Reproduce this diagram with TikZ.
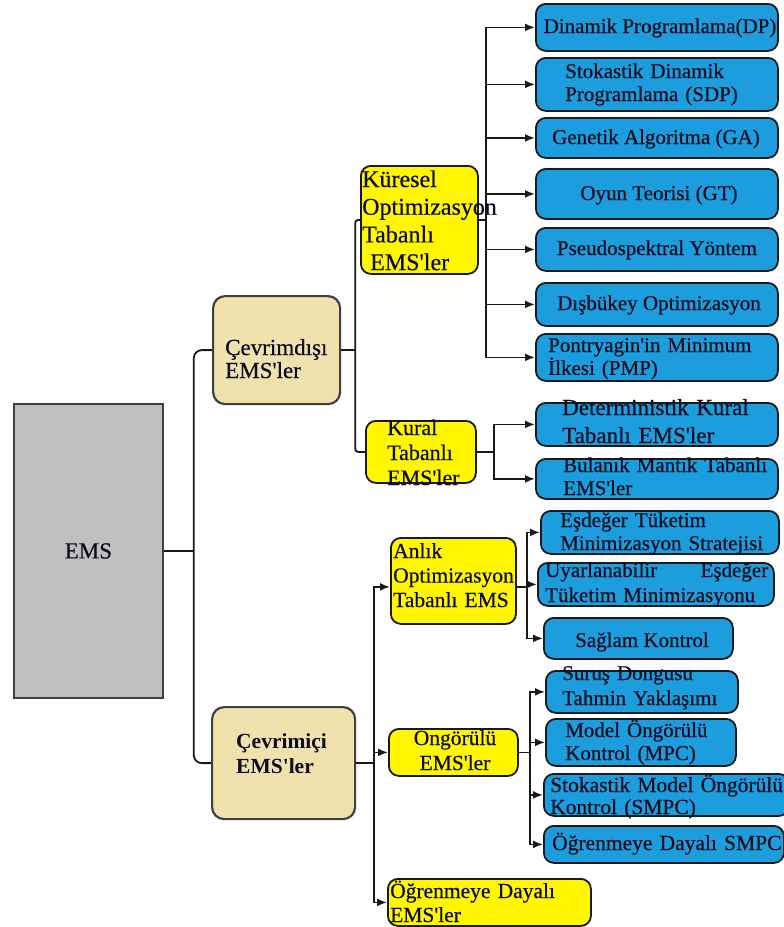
\documentclass[tikz,border=0pt]{standalone}
\usepackage{fontspec}
\setmainfont{Liberation Serif}[Ligatures=TeXOff, FakeBold=0.5, BoldFeatures={FakeBold=0}]
\usetikzlibrary{arrows.meta}
\definecolor{bluebox}{RGB}{28,158,222}
\definecolor{yellowbox}{RGB}{255,246,0}
\definecolor{tanbox}{RGB}{240,226,172}
\definecolor{graybox}{RGB}{192,192,192}
\definecolor{ink}{RGB}{12,12,30}
\tikzset{
  box/.style={draw, anchor=north west, inner sep=0pt, line width=1.8pt},
  bluenode/.style={box, fill=bluebox, draw=black!90, rounded corners=10pt},
  yelnode/.style={box, fill=yellowbox, draw=black!90, rounded corners=10pt},
  tannode/.style={box, fill=tanbox, draw=black!75, line width=2.2pt, rounded corners=12pt},
  graynode/.style={box, fill=graybox, draw=black!75},
  txt/.style={inner sep=0pt, text width=300pt, align=left, anchor=base west, text=ink,
    font=\fontsize{21}{23}\selectfont},
  ctxt/.style={inner sep=0pt, anchor=base, text=ink, font=\fontsize{21}{23}\selectfont},
  conn/.style={line width=1.8pt, draw=black!90},
  arr/.style={conn, -{Latex[length=10pt,width=8pt]}}
}
\begin{document}
\begin{tikzpicture}[x=1pt,y=-1pt]
\useasboundingbox (0,0) rectangle (784,927);

% ---------- boxes ----------
\node[graynode, minimum width=149pt, minimum height=294pt] (ems) at (13,403) {};
\node[tannode, minimum width=127pt, minimum height=108pt] (cevd) at (212,295) {};
\node[tannode, minimum width=143pt, minimum height=112pt] (cevi) at (211,706) {};

\node[yelnode, minimum width=117pt, minimum height=108pt] (kur) at (360,165) {};
\node[yelnode, minimum width=110pt, minimum height=62pt] (kural) at (365,420) {};
\node[yelnode, minimum width=125pt, minimum height=86pt] (anl) at (390,537) {};
\node[yelnode, minimum width=129pt, minimum height=47pt] (ong) at (388,728) {};
\node[yelnode, minimum width=203pt, minimum height=47pt] (ogr) at (387,878) {};

\node[bluenode, minimum width=242pt, minimum height=47pt] (dp) at (535,3) {};
\node[bluenode, minimum width=242pt, minimum height=53pt] (sdp) at (535,57) {};
\node[bluenode, minimum width=242pt, minimum height=40pt] (ga) at (535,117) {};
\node[bluenode, minimum width=242pt, minimum height=50pt] (gt) at (535,168) {};
\node[bluenode, minimum width=242pt, minimum height=43pt] (ps) at (535,227) {};
\node[bluenode, minimum width=242pt, minimum height=43pt] (db) at (535,282) {};
\node[bluenode, minimum width=242pt, minimum height=47pt] (pmp) at (535,333) {};

\node[bluenode, minimum width=242pt, minimum height=43pt] (det) at (535,402) {};
\node[bluenode, minimum width=242pt, minimum height=40pt] (bul) at (535,458) {};

\node[bluenode, minimum width=238pt, minimum height=43pt] (eq) at (540,510) {};
\node[bluenode, minimum width=236pt, minimum height=43pt] (uy) at (537,562) {};
\node[bluenode, minimum width=189pt, minimum height=41pt] (sg) at (543,617) {};

\node[bluenode, minimum width=192pt, minimum height=42pt] (sr) at (545,670) {};
\node[bluenode, minimum width=190pt, minimum height=47pt] (mpc) at (545,718) {};
\node[bluenode, minimum width=245pt, minimum height=42pt] (smpc) at (543,773) {};
\node[bluenode, minimum width=240pt, minimum height=37pt] (osmpc) at (543,825) {};

% ---------- connectors ----------
\coordinate (j0) at ([xshift=30pt]ems.east);
\draw[conn] (ems.east) -- (j0);
\draw[conn, rounded corners=8pt] (cevd.west) -| (j0) |- (cevi.west);

\coordinate (j1) at ([xshift=14pt]cevd.east);
\draw[conn] (cevd.east) -- (j1);
\draw[conn, rounded corners=3pt] (kur.west) -| (j1) |- (kural.west);

\coordinate (j2) at ([xshift=7pt]kur.east);
\draw[conn] (kur.east) -- (j2);
\foreach \n in {dp,sdp,ga,gt,ps,db,pmp}{\draw[arr] (j2) |- (\n.west);}

\coordinate (j3) at ([xshift=17pt]kural.east);
\draw[conn] (kural.east) -- (j3);
\foreach \n in {det,bul}{\draw[arr] (j3) |- (\n.west);}

\coordinate (j4) at ([xshift=18pt]cevi.east);
\draw[conn] (cevi.east) -- (j4);
\draw[arr] (j4) |- ([yshift=-6pt]anl.west);
\draw[arr] (j4) |- (ong.west);
\draw[arr] (j4) |- (ogr.west);

\coordinate (j5) at ([xshift=10pt,yshift=-6pt]anl.east);
\draw[conn] ([yshift=-6pt]anl.east) -- (j5);
\foreach \n in {eq,uy,sg}{\draw[arr] (j5) |- (\n.west);}

\coordinate (j6) at ([xshift=11pt]ong.east);
\draw[conn] (ong.east) -- (j6);
\foreach \n in {sr,mpc,smpc,osmpc}{\draw[arr] (j6) |- (\n.west);}

% ---------- texts ----------
\node[ctxt, anchor=center, font=\fontsize{23}{23}\selectfont] (ems-t) at (ems.center) {EMS};
\node[txt, font=\fontsize{23}{23}\selectfont] (cevd-t) at (225,355) {Çevrimdışı\\EMS'ler};
\node[txt, font=\bfseries\fontsize{21.5}{25}\selectfont] (cevi-t) at (236,748) {Çevrimiçi\\EMS'ler};

\node[txt, font=\fontsize{24}{27.7}\selectfont] (kur-t) at (362,187) {Küresel\\Optimizasyon\\Tabanlı\\\hspace*{8pt}EMS'ler};
\node[txt, font=\fontsize{22}{25}\selectfont] (kural-t) at (387,435) {Kural\\Tabanlı\\EMS'ler};
\node[txt, font=\fontsize{21.5}{24.5}\selectfont] (anl-t) at (393,558) {Anlık\\Optimizasyon\\Tabanlı EMS};
\node[txt, text width=130pt, align=center, anchor=base, font=\fontsize{21.5}{25}\selectfont] (ong-t) at (455,745) {Ongörülü\\EMS'ler};
\node[txt, font=\fontsize{21.5}{24}\selectfont] (ogr-t) at (390,898) {Öğrenmeye Dayalı\\EMS'ler};

\node[ctxt] (dp-t) at (660,33) {Dinamik Programlama(DP)};
\node[txt] (sdp-t) at (565,78) {Stokastik Dinamik\\Programlama (SDP)};
\node[ctxt] (ga-t) at (656,144) {Genetik Algoritma (GA)};
\node[ctxt] (gt-t) at (659,200) {Oyun Teorisi (GT)};
\node[ctxt] (ps-t) at (657,255) {Pseudospektral Yöntem};
\node[ctxt] (db-t) at (659,310) {Dışbükey Optimizasyon};
\node[txt, font=\fontsize{21}{21.5}\selectfont] (pmp-t) at (548,352) {Pontryagin'in Minimum\\İlkesi (PMP)};

\node[txt, font=\fontsize{23}{28}\selectfont] (det-t) at (562,415) {Deterministik Kural\\Tabanlı EMS'ler};
\node[txt] (bul-t) at (563,472) {Bulanık Mantık Tabanlı\\EMS'ler};

\node[txt] (eq-t) at (560,527) {Eşdeğer Tüketim\\Minimizasyon Stratejisi};
\node[txt, font=\fontsize{21}{25}\selectfont] (uy-t) at (545,577) {\makebox[223pt][s]{Uyarlanabilir\hfill Eşdeğer}\\Tüketim Minimizasyonu};
\node[ctxt] (sg-t) at (642,647) {Sağlam Kontrol};

\node[txt, font=\fontsize{21}{25}\selectfont] (sr-t) at (562,680) {Suruş Dongusu\\Tahmin Yaklaşımı};
\node[txt] (mpc-t) at (565,737) {Model Öngörülü\\Kontrol (MPC)};
\node[txt, font=\fontsize{21.5}{22}\selectfont] (smpc-t) at (550,792) {Stokastik Model Öngörülü\\Kontrol (SMPC)};
\node[txt, font=\fontsize{21.5}{23}\selectfont] (osmpc-t) at (552,850) {Öğrenmeye Dayalı SMPC};
\end{tikzpicture}
\end{document}
